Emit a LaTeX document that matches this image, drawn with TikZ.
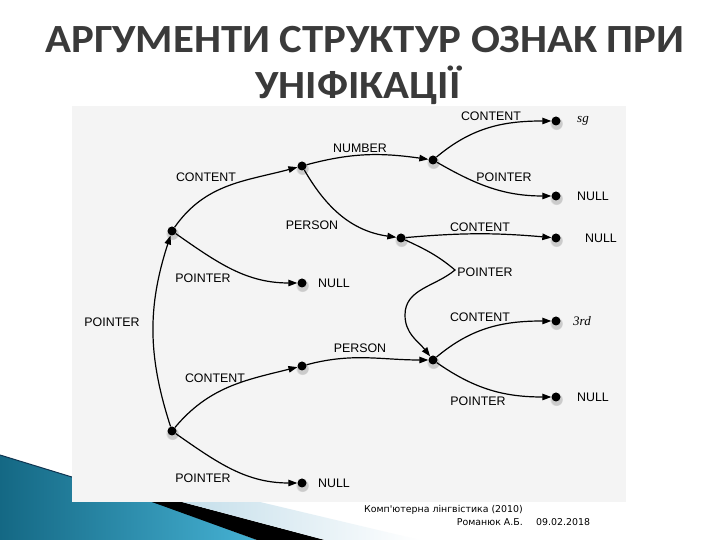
\documentclass[tikz,border=0pt]{standalone}
\usepackage{fontspec}
\setmainfont{Liberation Sans}
\newfontfamily\titlefont{Carlito}
\newfontfamily\footfont{DejaVu Sans}
\newfontfamily\valfont{Liberation Serif}
\usepackage{xcolor}
\usetikzlibrary{arrows.meta, shadows, positioning}

\definecolor{titlegray}{RGB}{58,58,58}
\definecolor{framegray}{RGB}{244,244,244}
\definecolor{tealdark}{RGB}{20,104,132}
\definecolor{teallight}{RGB}{70,178,212}
\definecolor{tealline}{RGB}{16,52,80}
\definecolor{paleblue}{RGB}{196,222,234}

\begin{document}
\begin{tikzpicture} [
	x=1bp, y=1bp, % one unit is one pixel of the slide
	>={Triangle[length=9bp, width=6.5bp]}, % filled arrow heads
	dot/.style={circle, fill=black, inner sep=0pt, minimum size=9bp,
		circular drop shadow={shadow xshift=.3bp, shadow yshift=-1.8bp, shadow scale=1.45, opacity=.35}}, % the feature structure nodes
	arc/.style={->, line width=1.2bp}, % the feature arcs
	feat/.style={font=\fontsize{12.4bp}{14bp}\selectfont, inner sep=0pt}, % feature names
	val/.style={font=\fontsize{13bp}{15bp}\selectfont\valfont\itshape, inner sep=0pt, anchor=west}, % atomic values
	heading/.style={font=\titlefont\bfseries\fontsize{40bp}{44bp}\selectfont, text=titlegray, anchor=base, inner sep=0pt}, % slide title
	foot/.style={font=\footfont\fontsize{9.4bp}{11bp}\selectfont, inner sep=0pt}, % slide footer
	]
	\useasboundingbox (0,0) rectangle (720,540);
	\fill[white] (0,0) rectangle (720,540);

	% slide decoration, bottom left
	\shade[left color=tealdark, right color=teallight] (0,85) -- (160,36) -- (257,0) -- (0,0) -- cycle;
	\draw[tealline, line width=1bp] (0,85) -- (160,36);
	\fill[black] (152,38) -- (182,38) -- (325,0) -- (257,0) -- cycle;
	\shade[left color=paleblue, right color=white] (182,38) -- (260,38) -- (420,0) -- (325,0) -- cycle;

	% the scanned figure
	\fill[framegray] (72,38) rectangle (626,434);

	% title
	\node[heading] (titleA) at (365,487) {\scalebox{1.07}[1]{АРГУМЕНТИ СТРУКТУР ОЗНАК ПРИ}};
	\node[heading] (titleB) at (358,441) {\scalebox{1.07}[1]{УНІФІКАЦІЇ}};

	% nodes of the two structures
	\node[dot] (a) at (172,309) {};
	\node[dot] (b) at (302,374) {};
	\node[dot] (anull) at (302,257) {};
	\node[dot] (c) at (172,109) {};
	\node[dot] (d) at (302,174) {};
	\node[dot] (cnull) at (302,57) {};
	\node[dot] (num) at (433,380) {};
	\node[dot] (sg) at (556,419) {};
	\node[dot] (numnull) at (556,344) {};
	\node[dot] (per) at (401,302) {};
	\node[dot] (pernull) at (556,302) {};
	\node[dot] (g) at (433,180) {};
	\node[dot] (third) at (556,219) {};
	\node[dot] (gnull) at (556,143) {};

	\coordinate (turn) at (455,270);
	\coordinate (down) at (405,225);

	% feature arcs
	\draw[arc]
		(a) edge[out=55, in=195] (b)
		(a) edge[out=-35, in=180] (anull)
		(c) edge[out=108, in=-108] (a)
		(c) edge[out=50, in=194] (d)
		(c) edge[out=-35, in=180] (cnull)
		(b) edge[out=15, in=172] (num)
		(b) edge[out=-60, in=172] (per)
		(num) edge[out=40, in=180] (sg)
		(num) edge[out=-30, in=180] (numnull)
		(per) edge[out=5, in=175] (pernull)
		(d) edge[out=15, in=180] (g)
		(g) edge[out=40, in=180] (third)
		(g) edge[out=-35, in=180] (gnull)
	;
	\draw[arc] (per) to[out=-25, in=140] (turn) to[out=-140, in=90] (down) to[out=-90, in=128] (g);

	% feature names
	\node[feat] (lcontA) at (206,363) {CONTENT};
	\node[feat] (lpointA) at (203,262) {POINTER};
	\node[feat] (lpointC) at (112,218) {POINTER};
	\node[feat] (lcontC) at (215,162) {CONTENT};
	\node[feat] (lpointCC) at (203,62) {POINTER};
	\node[feat] (lnum) at (360,392) {NUMBER};
	\node[feat] (lperB) at (312,315) {PERSON};
	\node[feat] (lcontN) at (491,424) {CONTENT};
	\node[feat] (lpointN) at (504,363) {POINTER};
	\node[feat] (lcontP) at (480,313) {CONTENT};
	\node[feat] (lpointP) at (485,268) {POINTER};
	\node[feat] (lperD) at (360,192) {PERSON};
	\node[feat] (lcontG) at (480,223) {CONTENT};
	\node[feat] (lpointG) at (478,139) {POINTER};

	% values
	\node[feat] (vnullA) at (334,257) {NULL};
	\node[feat] (vnullC) at (334,57) {NULL};
	\node[feat] (vnullN) at (593,344) {NULL};
	\node[feat] (vnullP) at (601,302) {NULL};
	\node[feat] (vnullG) at (593,143) {NULL};
	\node[val] (vsg) at (577,419) {sg};
	\node[val] (vthird) at (573,219) {3rd};

	% footer
	\node[foot, anchor=east] (course) at (523,30) {Комп'ютерна лінгвістика (2010)};
	\node[foot, anchor=east] (author) at (523,18) {Романюк А.Б.};
	\node[foot, anchor=west] (date) at (536,18) {09.02.2018};
\end{tikzpicture}
\end{document}
